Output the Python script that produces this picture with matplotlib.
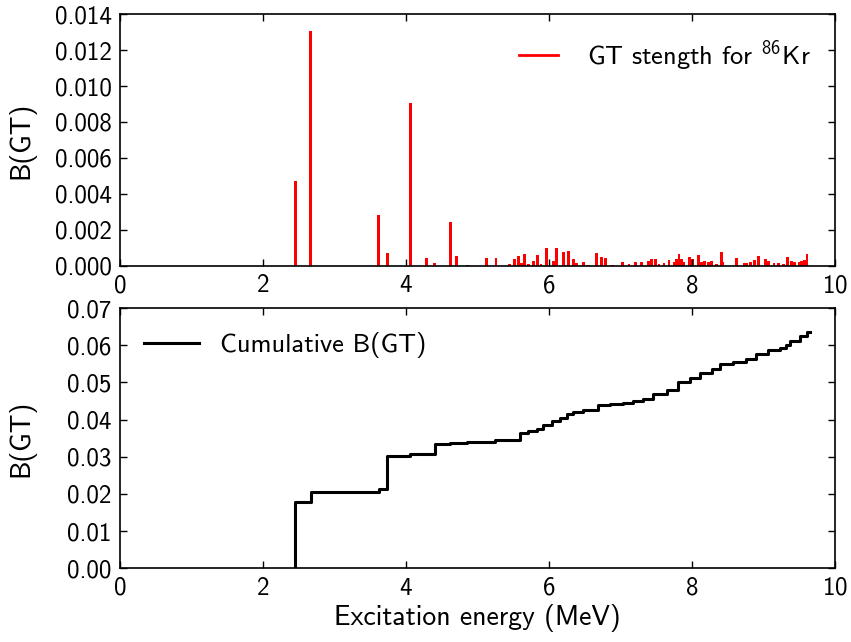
import matplotlib
matplotlib.use('Agg')
import matplotlib.pyplot as plt

# GT strength lines (energy in MeV, B(GT))
energia = [2.45, 2.67, 3.62, 3.74, 4.06, 4.29, 4.40, 4.62, 4.71, 4.86,
           5.13, 5.26, 5.45, 5.52, 5.58, 5.62, 5.66, 5.72, 5.78, 5.84,
           5.89, 5.97, 6.06, 6.11, 6.21, 6.27, 6.34, 6.39, 6.48, 6.56,
           6.67, 6.73, 6.79, 6.89, 7.03, 7.12, 7.21, 7.29, 7.39, 7.43,
           7.49, 7.54, 7.61, 7.68, 7.75, 7.79, 7.82, 7.85, 7.89, 7.97,
           8.01, 8.09, 8.14, 8.18, 8.23, 8.28, 8.34, 8.41, 8.43, 8.63,
           8.73, 8.77, 8.82, 8.88, 8.93, 9.03, 9.07, 9.15, 9.21, 9.28,
           9.34, 9.39, 9.43, 9.50, 9.53, 9.57, 9.61]
kekuatan = [0.00472, 0.01307, 0.00283, 0.00070, 0.00904, 0.00046, 0.00015, 0.00244, 0.00057, 0.00003,
            0.00043, 0.00042, 0.00010, 0.00035, 0.00056, 0.00013, 0.00066, 0.00010, 0.00027, 0.00060,
            0.00008, 0.00097, 0.00024, 0.00097, 0.00075, 0.00080, 0.00035, 0.00017, 0.00020, 0.00004,
            0.00069, 0.00048, 0.00041, 0.00003, 0.00020, 0.00010, 0.00020, 0.00020, 0.00027, 0.00035,
            0.00035, 0.00010, 0.00017, 0.00030, 0.00020, 0.00040, 0.00066, 0.00035, 0.00020, 0.00050,
            0.00040, 0.00060, 0.00020, 0.00025, 0.00020, 0.00025, 0.00010, 0.00075, 0.00020, 0.00045,
            0.00013, 0.00017, 0.00020, 0.00030, 0.00054, 0.00040, 0.00025, 0.00017, 0.00013, 0.00010,
            0.00050, 0.00025, 0.00020, 0.00020, 0.00025, 0.00030, 0.00063]

# cumulative B(GT)
energia_kum = [2.45, 2.45, 2.67, 3.62, 3.73, 4.06, 4.40, 4.62, 4.85, 5.24,
               5.59, 5.71, 5.83, 5.92, 6.04, 6.15, 6.25, 6.34, 6.48, 6.68,
               6.85, 7.04, 7.18, 7.32, 7.46, 7.65, 7.81, 7.97, 8.11, 8.28,
               8.39, 8.58, 8.76, 8.90, 9.07, 9.23, 9.32, 9.37, 9.51, 9.61,
               9.65]
kumulatif = [0.0, 0.0177, 0.0206, 0.0212, 0.0302, 0.0308, 0.0333, 0.0336, 0.0340, 0.0346,
             0.0364, 0.0370, 0.0376, 0.0385, 0.0395, 0.0405, 0.0416, 0.0421, 0.0425, 0.0438,
             0.0441, 0.0445, 0.0449, 0.0456, 0.0470, 0.0481, 0.0501, 0.0513, 0.0526, 0.0537,
             0.0551, 0.0556, 0.0564, 0.0576, 0.0587, 0.0594, 0.0600, 0.0612, 0.0624, 0.0636,
             0.0636]

plt.rcParams['font.family'] = 'cmss10'
plt.rcParams['mathtext.default'] = 'regular'
plt.rcParams['axes.formatter.use_mathtext'] = True
plt.rcParams['font.size'] = 18

fig = plt.figure(figsize=(8.51, 6.42), dpi=100)
ax1 = fig.add_axes([0.141, 0.586, 0.840, 0.392])
ax2 = fig.add_axes([0.141, 0.115, 0.840, 0.405])

ax1.bar(energia, kekuatan, width=0.04, color='red', edgecolor='none')
ax1.plot([], [], color='red', lw=2, label='GT stength for $^{86}$Kr')
ax1.set_xlim(0, 10)
ax1.set_ylim(0, 0.014)
ax1.set_yticks([0, 0.002, 0.004, 0.006, 0.008, 0.010, 0.012, 0.014])
ax1.set_yticklabels(['0.000', '0.002', '0.004', '0.006', '0.008', '0.010', '0.012', '0.014'])
ax1.set_ylabel('B(GT)', fontsize=20)
ax1.legend(loc='upper right', frameon=False, fontsize=19, handlelength=1.5, handletextpad=1.1)

ax2.step(energia_kum, kumulatif, where='post', color='black', lw=2.2, label='Cumulative B(GT)')
ax2.set_xlim(0, 10)
ax2.set_ylim(0, 0.07)
ax2.set_yticks([0, 0.01, 0.02, 0.03, 0.04, 0.05, 0.06, 0.07])
ax2.set_yticklabels(['0.00', '0.01', '0.02', '0.03', '0.04', '0.05', '0.06', '0.07'])
ax2.set_xlabel('Excitation energy (MeV)', fontsize=20, labelpad=3)
ax2.set_ylabel('B(GT)', fontsize=20)
ax2.legend(loc='upper left', frameon=False, fontsize=19, handlelength=2.1, handletextpad=0.8)

for ax in (ax1, ax2):
    ax.set_xticks([0, 2, 4, 6, 8, 10])
    ax.tick_params(direction='in', top=True, right=True, length=5, width=1, pad=6)
    ax.yaxis.set_label_coords(-0.118, 0.5)
    for s in ax.spines.values():
        s.set_linewidth(1.2)

fig.savefig('out.png', dpi=100, facecolor='white')
